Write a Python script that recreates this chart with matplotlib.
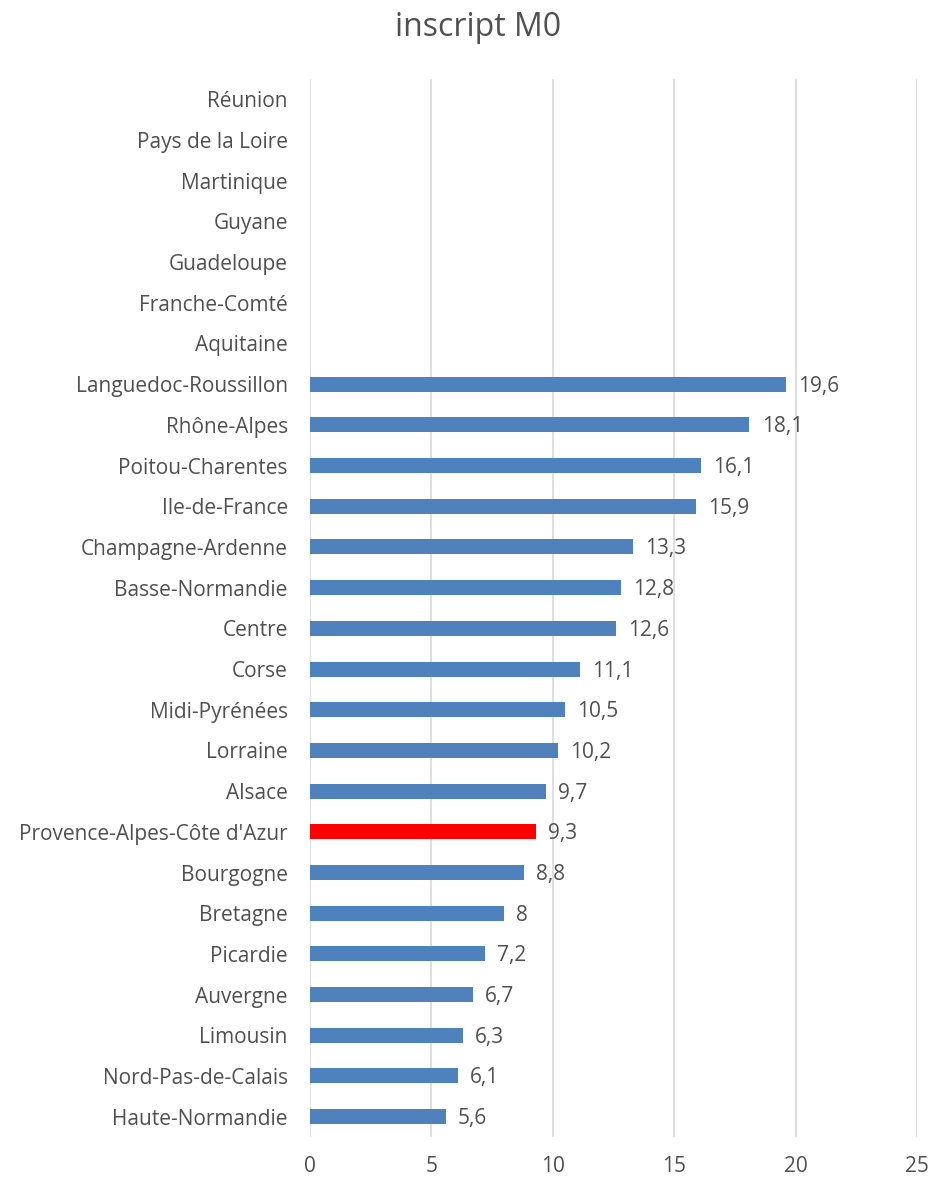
import numpy as np
import matplotlib.pyplot as plt

plt.rcParams['font.family'] = ['Open Sans', 'DejaVu Sans']

# regions from bottom to top, as drawn
regions = ['Haute-Normandie', 'Nord-Pas-de-Calais', 'Limousin', 'Auvergne', 'Picardie',
           'Bretagne', 'Bourgogne', "Provence-Alpes-Côte d'Azur", 'Alsace', 'Lorraine',
           'Midi-Pyrénées', 'Corse', 'Centre', 'Basse-Normandie', 'Champagne-Ardenne',
           'Ile-de-France', 'Poitou-Charentes', 'Rhône-Alpes', 'Languedoc-Roussillon',
           'Aquitaine', 'Franche-Comté', 'Guadeloupe', 'Guyane', 'Martinique',
           'Pays de la Loire', 'Réunion']
values = [5.6, 6.1, 6.3, 6.7, 7.2, 8, 8.8, 9.3, 9.7, 10.2, 10.5, 11.1, 12.6, 12.8, 13.3,
          15.9, 16.1, 18.1, 19.6, None, None, None, None, None, None, None]
highlight = "Provence-Alpes-Côte d'Azur"

txt = '#505050'
fig = plt.figure(figsize=(9.31, 11.79), dpi=100)
ax = fig.add_axes([310 / 931, 1 - 1137 / 1179, 607 / 931, 1058 / 1179])

y = np.arange(len(regions))
vals = [v if v is not None else 0 for v in values]
colors = ['#FF0000' if r == highlight else '#4F81BD' for r in regions]
ax.barh(y, vals, height=0.37, color=colors, zorder=3)

for yi, v in zip(y, values):
    if v is None:
        continue
    s = ('%g' % v).replace('.', ',')
    ax.text(v + 0.5, yi - 0.05, s, va='center', ha='left', fontsize=15, color=txt)

ax.set_xlim(0, 25)
ax.set_ylim(-0.5, len(regions) - 0.5)
ax.set_xticks([0, 5, 10, 15, 20, 25])
ax.set_yticks(y)
ax.set_yticklabels(regions)
ax.tick_params(axis='both', length=0, labelsize=15, colors=txt)
ax.tick_params(axis='y', pad=16)
ax.tick_params(axis='x', pad=14)
ax.grid(axis='x', color='#D9D9D9', linewidth=1.2, zorder=0)
for sp in ax.spines.values():
    sp.set_visible(False)

fig.text(478 / 931, 1 - 27 / 1179, 'inscript M0', ha='center', va='center', fontsize=23, color=txt)

fig.savefig('out.png', dpi=100)
